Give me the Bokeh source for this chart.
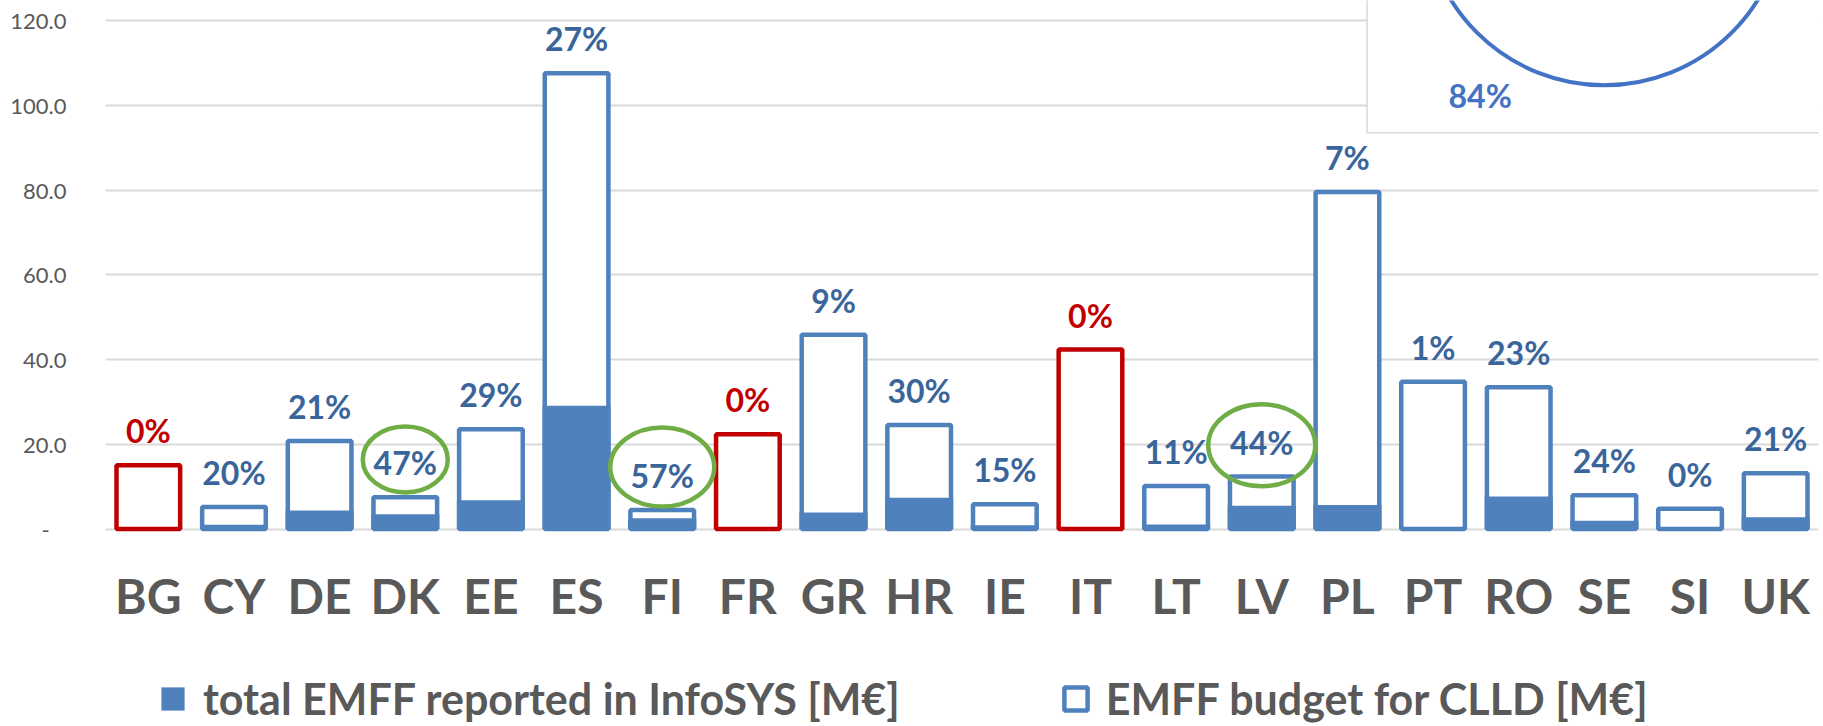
from bokeh.plotting import figure
from bokeh.models import (ColumnDataSource, FactorRange, Range1d, FixedTicker,
                          NumeralTickFormatter, LabelSet, Legend, LegendItem)
from bokeh.embed import file_html
from bokeh.resources import INLINE
from bokeh.core.properties import value

# ---------------- data ----------------
countries = ["BG", "CY", "DE", "DK", "EE", "ES", "FI", "FR", "GR", "HR",
             "IE", "IT", "LT", "LV", "PL", "PT", "RO", "SE", "SI", "UK"]
budget_clld = [15.1, 5.2, 20.8, 7.5, 23.6, 107.6, 4.5, 22.4, 45.9, 24.6,
               5.9, 42.4, 10.2, 12.4, 79.6, 34.8, 33.5, 8.0, 4.8, 13.2]
reported_infosys = [0.0, 1.04, 4.4, 3.5, 6.8, 29.1, 2.55, 0.0, 3.9, 7.4,
                    0.9, 0.0, 1.1, 5.5, 5.7, 0.35, 7.7, 2.0, 0.02, 2.8]
share_labels = ["0%", "20%", "21%", "47%", "29%", "27%", "57%", "0%", "9%", "30%",
                "15%", "0%", "11%", "44%", "7%", "1%", "23%", "24%", "0%", "21%"]
y_ticks = [0, 20, 40, 60, 80, 100, 120]
highlighted = ["DK", "FI", "LV"]
highlight_center_y = [16.45, 14.65, 19.8]
inset_share = "84%"

# ---------------- styles ----------------
BLUE = "#4f81bd"
RED = "#c00000"
LABEL_BLUE = "#3a659b"
GRAY = "#595959"
GRID = "#d9d9d9"
GREEN = "#70ad47"
PIE_BLUE = "#4472c4"
FONT = "Lato"

outline_colors = [RED if r == 0 else BLUE for r in reported_infosys]
label_colors = [RED if r == 0 else LABEL_BLUE for r in reported_infosys]

src = ColumnDataSource(dict(country=countries, budget=budget_clld, reported=reported_infosys,
                            share=share_labels, outline_color=outline_colors,
                            label_color=label_colors))

# frame covers the whole canvas height; the category axis is pinned at y = 0
p = figure(x_range=FactorRange(*countries, range_padding=0), y_range=Range1d(-46.6, 124.8),
           width=1822, height=726, output_backend="svg", toolbar_location=None,
           min_border_left=105, min_border_right=4, min_border_top=0, min_border_bottom=0)
p.outline_line_color = None
p.background_fill_color = "white"
p.border_fill_color = "white"

r_budget = p.vbar(x="country", top="budget", bottom=0, width=0.743, source=src,
                  fill_color="white", line_color="outline_color", line_width=4.5)
r_rep = p.vbar(x="country", top="reported", bottom=0, width=0.795, source=src,
               fill_color=BLUE, line_color=None)

labels = LabelSet(x="country", y="budget", text="share", source=src,
                  text_color="label_color", text_font=value(FONT), text_font_style="bold",
                  text_font_size="32px", text_align="center", text_baseline="alphabetic",
                  y_offset=22)
p.add_layout(labels)

p.ellipse(x=highlighted, y=highlight_center_y, width=[85, 104, 107], height=[66, 79, 82],
          width_units="screen", height_units="screen", fill_color=None,
          line_color=GREEN, line_width=4.5)

# inset (partially visible pie chart in the top-right corner)
p.quad(left=14.73, right=21, bottom=93.56, top=130, fill_color="white",
       line_color=GRID, line_width=1.5)
p.scatter(x=[17.5], y=[147.4], size=361, marker="circle", fill_color=None,
          line_color=PIE_BLUE, line_width=4)
p.text(x=[16.05], y=[102.4], text=[inset_share], text_font=value(FONT),
       text_font_style="bold", text_font_size="32px", text_color=PIE_BLUE,
       text_align="center", text_baseline="middle")

# axes
p.xaxis.fixed_location = 0
p.xaxis.axis_line_color = None
p.xaxis.major_tick_line_color = None
p.xaxis.minor_tick_line_color = None
p.xaxis.major_label_text_font = FONT
p.xaxis.major_label_text_font_style = "bold"
p.xaxis.major_label_text_font_size = "48px"
p.xaxis.major_label_text_color = GRAY
p.xaxis.major_label_standoff = 32

p.yaxis.ticker = FixedTicker(ticks=y_ticks)
p.yaxis.formatter = NumeralTickFormatter(format="0.0")
p.yaxis.major_label_overrides = {0: "-\u00a0\u00a0\u00a0"}
p.yaxis.axis_line_color = None
p.yaxis.major_tick_line_color = None
p.yaxis.minor_tick_line_color = None
p.yaxis.major_tick_out = 0
p.yaxis.major_tick_in = 0
p.yaxis.major_label_text_font = FONT
p.yaxis.major_label_text_font_size = "22px"
p.yaxis.major_label_text_color = GRAY
p.yaxis.major_label_standoff = 39

p.ygrid.ticker = FixedTicker(ticks=y_ticks)
p.ygrid.grid_line_color = GRID
p.ygrid.grid_line_width = 2
p.xgrid.grid_line_color = None

legend = Legend(items=[
    LegendItem(label="total EMFF reported in InfoSYS [M€]", renderers=[r_rep], index=1),
    LegendItem(label="EMFF budget for CLLD [M€]", renderers=[r_budget], index=1)],
    location=(53, 2), orientation="horizontal",
    glyph_width=29, glyph_height=29, label_height=29, label_standoff=16, spacing=161,
    padding=0, margin=0, border_line_color=None, background_fill_alpha=0,
    label_text_font=FONT, label_text_font_style="bold", label_text_font_size="43px",
    label_text_color=GRAY)
p.add_layout(legend)

open("out.html", "w").write(file_html(p, INLINE))
